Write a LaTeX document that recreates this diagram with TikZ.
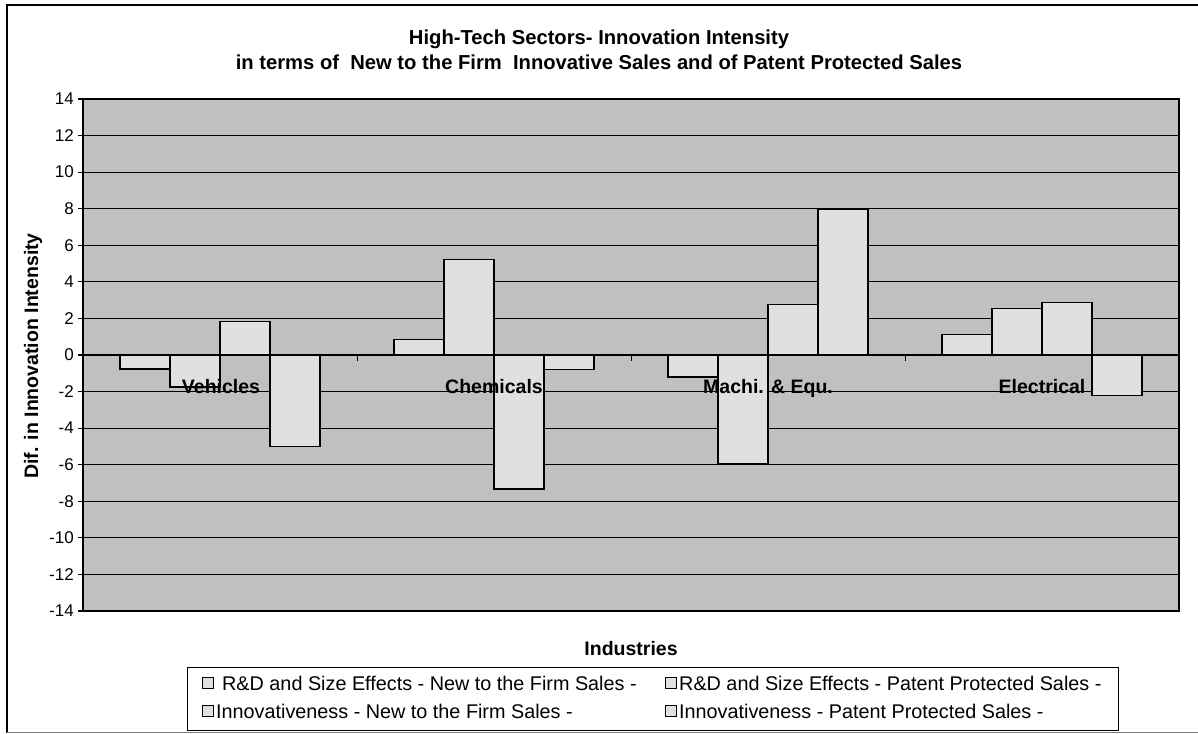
\documentclass[tikz,border=0pt]{standalone}
\usepackage{fontspec}
\setmainfont{Liberation Sans}
\usetikzlibrary{calc, positioning}
\definecolor{plotgray}{HTML}{C0C0C0}
\definecolor{bargray}{HTML}{E0E0E0}

\begin{document}
\begin{tikzpicture}[x=1pt, y=-1pt,
    bar/.style={draw, fill=bargray, line width=1.3pt},
    grid line/.style={line width=1.2pt},
    tick label/.style={anchor=east, inner sep=0pt, font=\fontsize{17}{19}\selectfont},
    bold text/.style={inner sep=0pt, font=\bfseries\fontsize{19.5}{22}\selectfont},
    cat label/.style={bold text, anchor=base},
    legmark/.style={draw, fill=bargray, line width=1pt, minimum size=11pt, inner sep=0pt},
    legtext/.style={anchor=west, inner sep=0pt, font=\fontsize{19.8}{22}\selectfont}]
    \useasboundingbox (0,0) rectangle (1198,733);
    % outer frame
    \draw[line width=2pt] (7,733) -- (7,5) -- (1198,5);
    \draw[gray, line width=1pt] (7,732) -- (1198,732);
    % title
    \node[bold text, font=\bfseries\fontsize{20.2}{22}\selectfont] (title1) at (599,39) {High-Tech Sectors- Innovation Intensity};
    \node[bold text, font=\bfseries\fontsize{20.2}{22}\selectfont] (title2) at (599,62) {in terms of \ New to the Firm \ Innovative Sales and of Patent Protected Sales};
    % plot area and grid
    \fill[plotgray] (83,99) rectangle (1179,611);
    \foreach \v in {-14,-12,...,14} {
        \draw[grid line] (78,{355-18.286*\v}) -- (1179,{355-18.286*\v});
        \node[tick label] (tick\v) at (74,{355-18.286*\v}) {\v};
    }
    % bars
    \foreach \i/\a/\b/\c/\d in {0/-0.77/-1.75/1.84/-5.0, 1/0.85/5.23/-7.33/-0.78,
                                2/-1.2/-5.94/2.78/7.98, 3/1.13/2.55/2.88/-2.2} {
        \foreach \j/\v in {0/\a, 1/\b, 2/\c, 3/\d}
            \draw[bar] ({120+274*\i+50*\j},355) rectangle ++(50,{-18.286*\v});
    }
    \draw[grid line] (83,355) -- (1179,355);
    \foreach \x in {357,631,905}
        \draw[line width=1pt] (\x,355) -- (\x,361);
    \draw[line width=2pt] (83,99) rectangle (1179,611);
    % categories
    \node[cat label] (vehicles) at (221,393) {Vehicles};
    \node[cat label] (chemicals) at (494,393) {Chemicals};
    \node[cat label] (machines) at (768,393) {Machi. \& Equ.};
    \node[cat label] (electrical) at (1042,393) {Electrical};
    % axis titles
    \node[bold text, rotate=90] (ylabel) at (33,356) {Dif. in Innovation Intensity};
    \node[bold text] (xlabel) at (631,649) {Industries};
    % legend
    \node[draw, line width=1pt, minimum width=931pt, minimum height=63pt] (legend) at (652.5,698.5) {};
    \node[legmark] (mark1) at (208,683) {};
    \node[legtext] (text1) at (222,683) {R\&D and Size Effects - New to the Firm Sales -};
    \node[legmark] (mark2) at (671,683) {};
    \node[legtext] (text2) at (679,683) {R\&D and Size Effects - Patent Protected Sales -};
    \node[legmark] (mark3) at (208,711) {};
    \node[legtext] (text3) at (216,711) {Innovativeness - New to the Firm Sales -};
    \node[legmark] (mark4) at (671,711) {};
    \node[legtext] (text4) at (679,711) {Innovativeness - Patent Protected Sales -};
\end{tikzpicture}
\end{document}
